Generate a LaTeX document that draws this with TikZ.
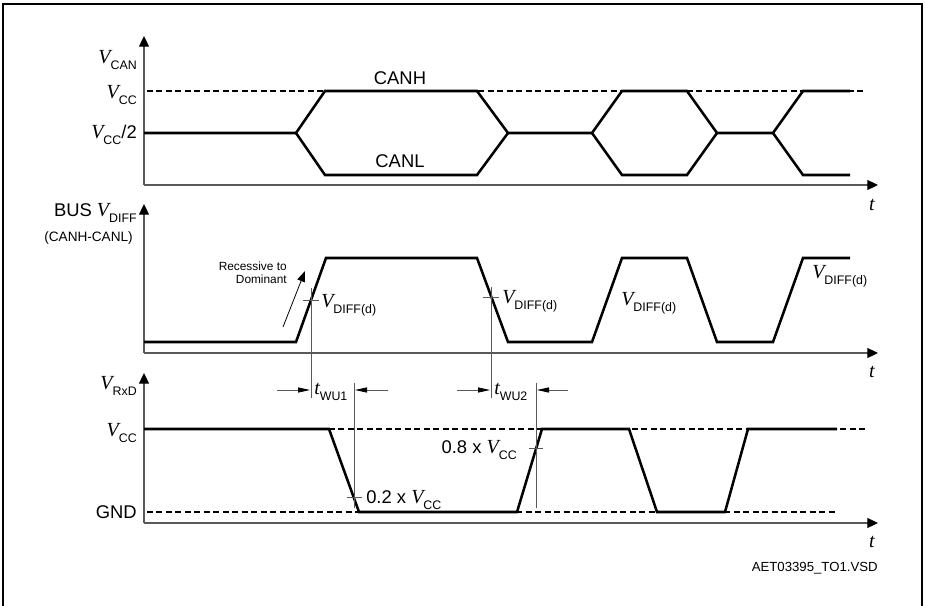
\documentclass[tikz,border=0pt]{standalone}
\usepackage{fontspec}
\setmainfont{Liberation Sans}
\newfontfamily\tms{Liberation Serif}
\usetikzlibrary{arrows.meta}

\newcommand{\subfnt}{\fontsize{9.3}{10}\selectfont}
\newcommand{\Vsub}[1]{{\tms\itshape\fontsize{15}{17}\selectfont V}\raisebox{-4.8pt}{\subfnt #1}}
\newcommand{\tsub}[1]{{\tms\itshape\fontsize{15}{17}\selectfont t}\raisebox{-4.8pt}{\subfnt #1}}
\newcommand{\tlab}{{\tms\itshape\fontsize{15}{17}\selectfont t}}

\tikzset{
  axis/.style={draw=black!65, line width=0.8pt, -{Triangle[length=8pt,width=7.5pt,black]}},
  sig/.style={line width=1.9pt},
  lvl/.style={line width=0.95pt, dash pattern=on 4.5pt off 2.6pt},
  guide/.style={black!65, line width=0.6pt},
  dimarr/.style={black!65, line width=0.6pt, -{Triangle[length=9pt,width=3.8pt,black]}}
}

\begin{document}
\begin{tikzpicture}[x=0.75pt, y=-0.75pt, every node/.style={font=\fontsize{13.8}{16}\selectfont, inner sep=0pt}]
    \useasboundingbox (0,0) rectangle (926,606);
    \draw[line width=0.9pt] (3,606) -- (3,4) -- (922,4) -- (922,606);

    % top: V_CAN
    \draw[axis] (144,185) -- (144,36);
    \draw[axis] (144,185) -- (878,185);
    \draw[lvl] (147,91) -- (865,91);
    \draw[sig] (144,133) -- (296,133) -- (325,91) -- (477,91) -- (508,133) -- (592,133) -- (622,91) -- (687,91) -- (717,133) -- (773,133) -- (803,91) -- (850,91);
    \draw[sig] (296,133) -- (325,175) -- (477,175) -- (508,133);
    \draw[sig] (592,133) -- (622,175) -- (687,175) -- (717,133);
    \draw[sig] (773,133) -- (803,175) -- (850,175);
    \node[anchor=east] (vcan) at (137,60) {\Vsub{CAN}};
    \node[anchor=east] (vcc1) at (137,95) {\Vsub{CC}};
    \node[anchor=east] (vcc2) at (137,135) {\Vsub{CC}/2};
    \node (canh) at (400,78) {CANH};
    \node (canl) at (400,161) {CANL};
    \node (t1) at (872,205) {\tlab};

    % middle: V_DIFF
    \draw[axis] (144,353) -- (144,204);
    \draw[axis] (144,353) -- (878,353);
    \draw[sig] (144,342) -- (296,342) -- (326,258) -- (477,258) -- (508,342) -- (592,342) -- (622,258) -- (687,258) -- (717,342) -- (773,342) -- (803,258) -- (850,258);
    \node[anchor=east] (bus) at (137,213) {BUS \Vsub{DIFF}};
    \node[anchor=east, font=\fontsize{10.2}{12}\selectfont] (cancl) at (133,238) {(CANH-CANL)};
    \node[anchor=east, align=right, font=\fontsize{8.9}{9.6}\selectfont] (rec) at (287,273) {Recessive to\\Dominant};
    \draw[line width=0.6pt, -{Triangle[length=8pt,width=6pt]}] (283,327) -- (305,271);
    \node[anchor=west] (vd1) at (321,305) {\Vsub{DIFF(d)}};
    \node[anchor=west] (vd2) at (502,301) {\Vsub{DIFF(d)}};
    \node[anchor=west] (vd3) at (621,303) {\Vsub{DIFF(d)}};
    \node[anchor=west] (vd4) at (812,276) {\Vsub{DIFF(d)}};
    \node (t2) at (872,372) {\tlab};

    % bottom: V_RxD
    \draw[axis] (144,523) -- (144,373);
    \draw[axis] (144,523) -- (878,523);
    \draw[lvl] (329,429) -- (865,429);
    \draw[lvl] (147,512) -- (838,512);
    \draw[sig] (144,429) -- (329,429) -- (359,512) -- (517,512) -- (542,429) -- (629,429) -- (657,512) -- (725,512) -- (748,429) -- (837,429);
    \node[anchor=east] (vrxd) at (137,386) {\Vsub{RxD}};
    \node[anchor=east] (vcc3) at (137,433) {\Vsub{CC}};
    \node[anchor=east] (gnd) at (137,512) {GND};
    \node[anchor=west] (p2) at (366,500) {0.2 x \Vsub{CC}};
    \node[anchor=east] (p8) at (517,450) {0.8 x \Vsub{CC}};
    \node (t3) at (872,542) {\tlab};
    \node[anchor=east, font=\fontsize{9.9}{11}\selectfont] (file) at (878,568) {AET03395\_TO1.VSD};

    % wake-up times
    \coordinate (a1) at (311,288); \coordinate (a2) at (311,398);
    \coordinate (b1) at (491,287); \coordinate (b2) at (491,398);
    \coordinate (c1) at (354,383); \coordinate (c2) at (354,508);
    \coordinate (d1) at (536,383); \coordinate (d2) at (536,508);
    \draw[guide] (a1) -- (a2); \draw[guide] (b1) -- (b2);
    \draw[guide] (c1) -- (c2); \draw[guide] (d1) -- (d2);
    \draw[guide] (303,300) -- (319,300); \draw[guide] (483,297) -- (499,297);
    \draw[guide] (347,497) -- (362,497); \draw[guide] (529,448) -- (543,448);
    \draw[dimarr] (277,390) -- (310,390); \draw[dimarr] (388,390) -- (355,390);
    \draw[dimarr] (457,390) -- (490,390); \draw[dimarr] (568,390) -- (537,390);
    \node[anchor=west] (twu1) at (314,392) {\tsub{WU1}};
    \node[anchor=west] (twu2) at (494,392) {\tsub{WU2}};
\end{tikzpicture}
\end{document}
